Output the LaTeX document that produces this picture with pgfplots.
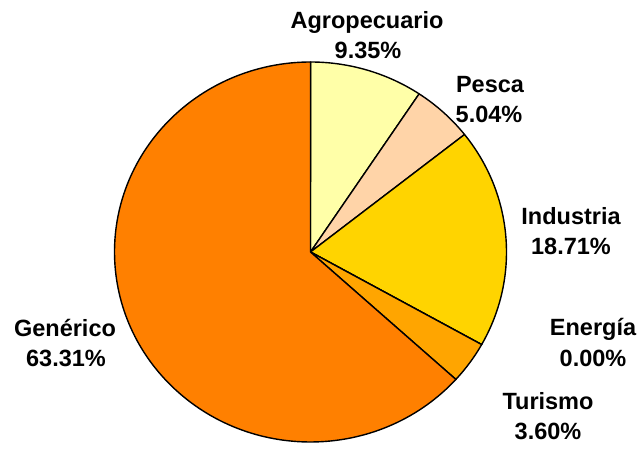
\documentclass[border=0pt]{standalone}
\usepackage{pgfplots}
\pgfplotsset{compat=1.18}
\usepackage{fontspec}
\setmainfont{Liberation Sans}
\definecolor{cAgro}{HTML}{FFFFA8}
\definecolor{cPesca}{HTML}{FFD4A8}
\definecolor{cInd}{HTML}{FFD400}
\definecolor{cEner}{HTML}{FFB000}
\definecolor{cTur}{HTML}{FFA500}
\definecolor{cGen}{HTML}{FF8000}
\begin{document}
\begin{tikzpicture}
\begin{axis}[
  x=1pt, y=1pt,
  xmin=0, xmax=642, ymin=0, ymax=445,
  hide axis, clip=false,
]
\path (axis cs:0,0) rectangle (axis cs:642,445);
\gdef\angstart{90}
\foreach \v/\c in {9.35/cAgro, 5.04/cPesca, 18.71/cInd, 0.00/cEner, 3.60/cTur, 63.31/cGen}{
  \pgfmathsetmacro\angend{\angstart - 3.6*\v}
  \edef\temp{\noexpand\filldraw[fill=\c, draw=black, line width=1.4pt, line join=round]
    (axis cs:310.5,193) -- ++(\angstart:196pt and 190pt)
    arc[start angle=\angstart, end angle=\angend, x radius=196pt, y radius=190pt] -- cycle;}
  \temp
  \global\let\angstart\angend
}
\tikzset{lab/.style={anchor=base, inner sep=0pt, font=\fontsize{23.5}{28}\selectfont\bfseries}}
\node[lab] at (axis cs:367,416) {Agropecuario};
\node[lab] at (axis cs:368,386) {9.35\%};
\node[lab] at (axis cs:490,352) {Pesca};
\node[lab] at (axis cs:489,322) {5.04\%};
\node[lab] at (axis cs:571,220) {Industria};
\node[lab] at (axis cs:571,190) {18.71\%};
\node[lab] at (axis cs:593,109) {Energía};
\node[lab] at (axis cs:593,78) {0.00\%};
\node[lab] at (axis cs:548,35) {Turismo};
\node[lab] at (axis cs:548,5) {3.60\%};
\node[lab] at (axis cs:65,108) {Genérico};
\node[lab] at (axis cs:66,78) {63.31\%};
\end{axis}
\end{tikzpicture}
\end{document}
